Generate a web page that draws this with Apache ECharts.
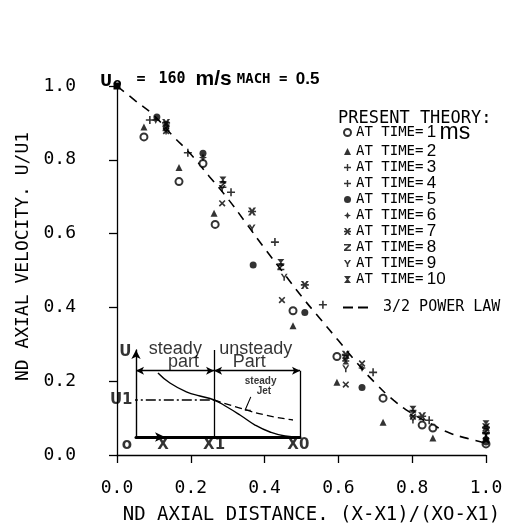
<!DOCTYPE html>
<html><head><meta charset="utf-8">
<script src="https://cdn.jsdelivr.net/npm/echarts@6/dist/echarts.min.js"></script>
<style>html,body{margin:0;padding:0;background:#fff}#c{width:510px;height:530px}</style>
</head><body><div id="c"></div>
<script>
// ---------- data ----------
const xTickLabels = ['0.0','0.2','0.4','0.6','0.8','1.0'];
const yTickLabels = ['0.0','0.2','0.4','0.6','0.8','1.0'];
const times = [1,2,3,4,5,6,7,8,9,10];
const t1 = [[0.073,0.862],[0.168,0.741],[0.233,0.790],[0.266,0.625],[0.477,0.391],[0.596,0.267],[0.721,0.154],[0.827,0.081],[0.856,0.073],[1.0,0.030]];
const t2 = [[0.073,0.889],[0.168,0.779],[0.263,0.655],[0.477,0.350],[0.596,0.197],[0.721,0.089],[0.856,0.046],[1.0,0.050]];
const t3 = [[0.089,0.908],[0.192,0.819],[0.309,0.712],[0.428,0.577],[0.558,0.407],[0.694,0.224],[0.846,0.094],[1.0,0.060]];
const t4 = [[0.133,0.878],[0.285,0.682],[0.447,0.420],[0.620,0.191],[0.664,0.248],[0.802,0.104],[1.0,0.040]];
const t5 = [[0.108,0.916],[0.233,0.818],[0.369,0.515],[0.509,0.386],[0.664,0.183],[1.0,0.035]];
const t6 = [[0.105,0.908],[0.233,0.806],[0.664,0.236],[1.0,0.045]];
const t7 = [[0.133,0.900],[0.366,0.660],[0.509,0.461],[0.620,0.272],[0.827,0.105],[1.0,0.075]];
const t8 = [[0.133,0.887],[0.287,0.733],[0.444,0.510],[0.620,0.262],[0.802,0.113],[1.0,0.065]];
const t9 = [[0.133,0.878],[0.285,0.722],[0.366,0.615],[0.453,0.482],[0.620,0.234],[0.802,0.095],[1.0,0.055]];
const t10 = [[0.133,0.895],[0.287,0.745],[0.444,0.522],[0.620,0.255],[0.802,0.124],[1.0,0.085]];
const seriesData = [t1,t2,t3,t4,t5,t6,t7,t8,t9,t10];
const powerLawX = [0,0.05,0.1,0.15,0.2,0.25,0.3,0.35,0.4,0.45,0.5,0.55,0.6,0.65,0.7,0.75,0.8,0.85,0.9,0.95,1.0];
const powerLawY = [1.0,0.96,0.92,0.866,0.815,0.755,0.695,0.628,0.56,0.495,0.43,0.37,0.31,0.25,0.195,0.148,0.112,0.085,0.06,0.045,0.032];
// inset schematic (its own 0..1 / 0..1.3 axes)
const insetCurveX = [0.134,0.207,0.311,0.39,0.476,0.555,0.634,0.726,0.817,0.909,0.988];
const insetCurveY = [0.956,0.807,0.672,0.613,0.553,0.448,0.329,0.179,0.075,0.015,0.0];
const insetU1X = [-0.05,0.476];
const insetU1Y = [0.553,0.553];
const insetJetX = [0.476,0.634,0.787,0.957];
const insetJetY = [0.553,0.433,0.329,0.254];
const insetLeaderX = [0.70,0.665,0.70];
const insetLeaderY = [0.60,0.40,0.40];
const insetTopY = 0.99, insetX1 = 0.476, insetXarrow = 0.177, insetRight = 1.0, insetX1Top = 1.3;
const bigWords = ['steady','part','unsteady','Part'];
const bigWordPos = [[0.24,1.31],[0.29,1.12],[0.73,1.31],[0.69,1.12]];
const smallWords = ['steady','Jet'];
const smallWordPos = [[0.76,0.83],[0.78,0.68]];
const letterWords = ['U','U1','o','X','X1','X0'];
const letterPos = [[-0.065,1.27],[-0.09,0.553],[-0.055,-0.12],[0.165,-0.12],[0.476,-0.12],[0.99,-0.12]];

// ---------- symbols ----------
const SYM = [
  'emptyCircle',
  'triangle',
  'path://M4,0H6V4H10V6H6V10H4V6H0V4H4Z',
  'path://M4,0H6V4H10V6H6V10H4V6H0V4H4Z',
  'circle',
  'path://M5,0L6.6,3.4L10,5L6.6,6.6L5,10L3.4,6.6L0,5L3.4,3.4Z',
  'path://M0,0H3L5,3L7,0H10L6.5,5L10,10H7L5,7L3,10H0L3.5,5ZM0,4H10V6H0Z',
  'path://M0,0H10V2.2L3.6,7.8H10V10H0V7.8L6.4,2.2H0Z',
  'path://M0,0H2.6L5,4L7.4,0H10L6.1,6V10H3.9V6Z',
  'path://M0,0H10L6,5L10,10H0L4,5Z'
];
const SYMROT = [0,0,0,45,0,0,0,0,0,0];
const SYMSIZE = [7,7,8,8,7,8,8,7,7,7];

const series = [];
seriesData.forEach((d,i)=>{
  series.push({
    type:'scatter', name:'AT TIME= '+times[i], data:d,
    symbol:SYM[i], symbolRotate:SYMROT[i], symbolSize:SYMSIZE[i],
    itemStyle:{color:'#000', borderColor:'#000', borderWidth: i===0?1.6:0},
    xAxisIndex:0, yAxisIndex:0, z:3
  });
});
series.push({
  type:'line', name:'3/2 POWER LAW',
  data: powerLawX.map((x,i)=> i===0 ? {value:[x,powerLawY[i]], symbol:'rect', symbolSize:7} : [x,powerLawY[i]]),
  showSymbol:true, symbol:'none', smooth:true,
  lineStyle:{color:'#000', width:1.6, type:[9,7]},
  itemStyle:{color:'#000'},
  xAxisIndex:0, yAxisIndex:0, z:2
});
const xy = (X,Y)=>X.map((x,i)=>[x,Y[i]]);
series.push({
  type:'line', data:xy(insetCurveX,insetCurveY), smooth:true, symbol:'none',
  lineStyle:{color:'#000', width:1.4}, xAxisIndex:1, yAxisIndex:1, clip:false, silent:true,
  markLine:{
    silent:true, animation:false, symbolSize:[6,8], label:{show:false},
    lineStyle:{color:'#000', width:1.3, type:'solid'},
    data:[
      [{coord:[0,insetTopY],symbol:'arrow'},{coord:[insetX1,insetTopY],symbol:'arrow'}],
      [{coord:[insetX1,insetTopY],symbol:'arrow'},{coord:[insetRight,insetTopY],symbol:'arrow'}],
      [{coord:[insetX1,0],symbol:'none'},{coord:[insetX1,insetX1Top],symbol:'none'}],
      [{coord:[insetRight,0],symbol:'none'},{coord:[insetRight,insetTopY],symbol:'none'}]
    ]
  },
  markPoint:{
    silent:true, animation:false, symbol:'arrow', symbolRotate:-90, symbolSize:[7,10],
    itemStyle:{color:'#000'}, label:{show:false},
    data:[{coord:[insetXarrow,0]}]
  }
});
series.push({type:'line', data:xy(insetU1X,insetU1Y), symbol:'none', clip:false, silent:true,
  lineStyle:{color:'#000', width:1.3, type:[10,3,2,3]}, xAxisIndex:1, yAxisIndex:1});
series.push({type:'line', data:xy(insetJetX,insetJetY), smooth:true, symbol:'none', clip:false, silent:true,
  lineStyle:{color:'#000', width:1.3, type:[7,4]}, xAxisIndex:1, yAxisIndex:1});
series.push({type:'line', data:xy(insetLeaderX,insetLeaderY), symbol:'none', clip:false, silent:true,
  lineStyle:{color:'#000', width:1.1}, xAxisIndex:1, yAxisIndex:1});
function labelSeries(words,pos,font){
  return {type:'scatter', xAxisIndex:1, yAxisIndex:1, symbolSize:0, clip:false, silent:true,
    data: words.map((w,i)=>({name:w, value:pos[i]})),
    label:{show:true, position:'inside', formatter:p=>p.name, color:'#000', ...font}};
}
series.push(labelSeries(bigWords,bigWordPos,{fontFamily:'Liberation Sans', fontSize:18}));
series.push(labelSeries(smallWords,smallWordPos,{fontFamily:'Liberation Sans', fontSize:10, fontWeight:'bold'}));
series.push(labelSeries(letterWords,letterPos,{fontFamily:'DejaVu Sans', fontSize:15, fontWeight:'bold'}));

const mono = 'DejaVu Sans Mono';
const option = {
  animation:false,
  backgroundColor:'#fff',
  title:[{
    left:95, top:63,
    text:'{u|U}{o|o}{eq| = }{n|160}  {ms|m/s} {m|MACH = }{v|0.5}',
    textStyle:{rich:{
      u:{fontFamily:'DejaVu Sans', fontSize:15, color:'#000', lineHeight:22, verticalAlign:'bottom', padding:[0,1,0,0]},
      o:{fontFamily:'DejaVu Sans', fontSize:12, fontWeight:'bold', color:'#000', lineHeight:22, verticalAlign:'bottom'},
      eq:{fontFamily:mono, fontSize:15, color:'#000', lineHeight:22, padding:[0,4,0,6]},
      n:{fontFamily:mono, fontSize:15, color:'#000', lineHeight:22},
      ms:{fontFamily:'Liberation Sans', fontSize:21, fontWeight:'bold', color:'#000', lineHeight:22},
      m:{fontFamily:mono, fontSize:14, color:'#000', lineHeight:22},
      v:{fontFamily:'Liberation Sans', fontSize:17, fontWeight:'bold', color:'#000', lineHeight:22}
    }}
  },{
    left:333, top:105, text:'PRESENT THEORY:',
    textStyle:{fontFamily:mono, fontSize:17, fontWeight:'normal', color:'#000'}
  }],
  legend:[{
    orient:'vertical', left:338, top:116, itemWidth:7, itemHeight:7, itemGap:-1,
    selectedMode:false,
    data: times.map(t=>'AT TIME= '+t),
    formatter: n => { const t = n.split('= ')[1]; return '{a|AT TIME=} {b|'+t+'}' + (t==='1' ? ' {c|ms}' : ''); },
    textStyle:{lineHeight:15, rich:{
      a:{fontFamily:mono, fontSize:14, color:'#000', lineHeight:15},
      b:{fontFamily:'Liberation Sans', fontSize:17, color:'#000', lineHeight:15},
      c:{fontFamily:'Liberation Sans', fontSize:23, color:'#000', lineHeight:15}
    }}
  },{
    orient:'vertical', left:338, top:295, itemWidth:25, itemHeight:3, selectedMode:false,
    data:[{name:'3/2 POWER LAW', icon:'path://M0,0H10V2H0ZM15,0H25V2H15Z'}],
    textStyle:{fontFamily:mono, fontSize:15, color:'#000', padding:[0,0,0,10]}
  }],
  grid:[
    {left:117, right:24, top:86, bottom:74, containLabel:false},
    {left:136, top:350, width:164, height:87}
  ],
  xAxis:[{
    type:'value', min:0, max:1, interval:0.2, offset:9, gridIndex:0,
    axisLine:{lineStyle:{color:'#000', width:1.3}},
    axisTick:{length:8, lineStyle:{color:'#000', width:1.3}},
    axisLabel:{margin:15, color:'#000', fontFamily:mono, fontSize:18, formatter:(v)=>xTickLabels[Math.round(v/0.2)]},
    splitLine:{show:false},
    name:'ND AXIAL DISTANCE. (X-X1)/(XO-X1)', nameLocation:'middle', nameGap:42,
    nameTextStyle:{fontFamily:mono, fontSize:19, color:'#000', padding:[0,0,0,20]}
  },{
    type:'value', min:0, max:1, gridIndex:1,
    axisLine:{lineStyle:{color:'#000', width:3}}, axisTick:{show:false}, axisLabel:{show:false}, splitLine:{show:false}
  }],
  yAxis:[{
    type:'value', min:0, max:1, interval:0.2, offset:20, gridIndex:0,
    axisLine:{show:true, lineStyle:{color:'#000', width:1.3}},
    axisTick:{show:true, length:8, lineStyle:{color:'#000', width:1.3}},
    axisLabel:{margin:21, color:'#000', fontFamily:mono, fontSize:18, formatter:(v)=>yTickLabels[Math.round(v/0.2)]},
    splitLine:{show:false},
    name:'ND AXIAL VELOCITY. U/U1', nameLocation:'middle', nameGap:62, nameRotate:90,
    nameTextStyle:{fontFamily:mono, fontSize:18, color:'#000', padding:[0,0,0,28]}
  },{
    type:'value', min:0, max:1.3, gridIndex:1,
    axisLine:{show:true, symbol:['none','arrow'], symbolSize:[7,9], lineStyle:{color:'#000', width:1.4}},
    axisTick:{show:false}, axisLabel:{show:false}, splitLine:{show:false}
  }],
  series: series
};
const chart = echarts.init(document.getElementById('c'), null, {renderer:'canvas'});
chart.setOption(option);
</script></body></html>
